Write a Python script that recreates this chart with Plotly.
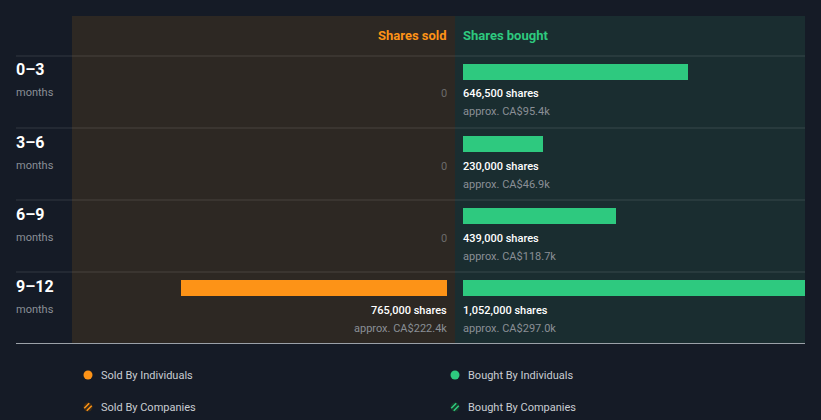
import math
import plotly.graph_objects as go

# ---------------- data ----------------
periods = ["0–3", "3–6", "6–9", "9–12"]
period_unit = "months"
sold_shares = [0, 0, 0, 765000]
sold_value_k = [0, 0, 0, 222.4]
bought_shares = [646500, 230000, 439000, 1052000]
bought_value_k = [95.4, 46.9, 118.7, 297.0]
legend_labels = ["Sold By Individuals", "Bought By Individuals",
                 "Sold By Companies", "Bought By Companies"]

# ---------------- style ----------------
W, H = 821, 420
BG = "#151b26"
SOLD_BG = "#2d2823"
BOUGHT_BG = "#1a2d30"
ORANGE = "#fd9317"
GREEN = "#2ec97f"
GREY = "#8a8f96"
FONT = "Roboto"

PX_PER_SHARE = 3.48e-4
ROW = 72.0
SHIFT = 2  # compensate annotation padding


def px(x):
    return x / W


def py(y):
    return (H - y) / H


# axis geometry (pixels)
sold_l, sold_r, sold_zero = 72, 455, 447
buy_l, buy_r, buy_zero = 455, 805, 463
top, bottom = 16, 343
first_bar_center = 72

sold_range = [(sold_zero - sold_l) / PX_PER_SHARE, -(sold_r - sold_zero) / PX_PER_SHARE]
buy_range = [-(buy_zero - buy_l) / PX_PER_SHARE, (buy_r - buy_zero) / PX_PER_SHARE]
y_range = [(bottom - first_bar_center) / ROW, (top - first_bar_center) / ROW]

idx = list(range(len(periods)))

fig = go.Figure()
fig.add_trace(go.Bar(
    y=idx, x=sold_shares, orientation="h", xaxis="x", yaxis="y",
    marker=dict(color=ORANGE, line=dict(width=0)), width=16 / ROW,
    hoverinfo="skip", showlegend=False))
fig.add_trace(go.Bar(
    y=idx, x=bought_shares, orientation="h", xaxis="x2", yaxis="y",
    marker=dict(color=GREEN, line=dict(width=0)), width=16 / ROW,
    hoverinfo="skip", showlegend=False))

shapes = []
# panel backgrounds
shapes.append(dict(type="rect", xref="paper", yref="paper", x0=px(sold_l), x1=px(sold_r),
                   y0=py(bottom), y1=py(top), fillcolor=SOLD_BG, line=dict(width=0), layer="below"))
shapes.append(dict(type="rect", xref="paper", yref="paper", x0=px(buy_l), x1=px(buy_r),
                   y0=py(bottom), y1=py(top), fillcolor=BOUGHT_BG, line=dict(width=0), layer="below"))
# row separators
for i in idx:
    yy = i - 16 / ROW
    shapes.append(dict(type="line", xref="paper", yref="y", x0=px(16), x1=px(buy_r),
                       y0=yy, y1=yy, line=dict(color="rgba(255,255,255,0.13)", width=1)))
# bottom line
shapes.append(dict(type="line", xref="paper", yref="paper", x0=px(16), x1=px(buy_r),
                   y0=py(343.5), y1=py(343.5), line=dict(color="#9ba1a8", width=1)))

annotations = []
# headers
annotations.append(dict(text="<b>Shares sold</b>", xref="x", yref="paper", x=0, y=py(35),
                        xanchor="right", yanchor="middle", showarrow=False, xshift=SHIFT,
                        font=dict(family=FONT, size=13, color=ORANGE)))
annotations.append(dict(text="<b>Shares bought</b>", xref="x2", yref="paper", x=0, y=py(35),
                        xanchor="left", yanchor="middle", showarrow=False, xshift=-SHIFT,
                        font=dict(family=FONT, size=13, color=GREEN)))

for i, p in enumerate(periods):
    annotations.append(dict(text="<b>%s</b>" % p, xref="paper", yref="y", x=px(14), y=i - 2 / ROW,
                            xanchor="left", yanchor="middle", showarrow=False,
                            font=dict(family=FONT, size=16, color="#ffffff")))
    annotations.append(dict(text=period_unit, xref="paper", yref="y", x=px(14), y=i + 21 / ROW,
                            xanchor="left", yanchor="middle", showarrow=False,
                            font=dict(family=FONT, size=11, color=GREY)))
    # sold
    if sold_shares[i] > 0:
        annotations.append(dict(text="%s shares" % f"{sold_shares[i]:,}", xref="x", yref="y",
                                x=0, y=i + 22 / ROW, xanchor="right", yanchor="middle",
                                showarrow=False, xshift=SHIFT,
                                font=dict(family=FONT, size=11, color="#ffffff", weight=500)))
        annotations.append(dict(text="approx. CA$%.1fk" % sold_value_k[i], xref="x", yref="y",
                                x=0, y=i + 40 / ROW, xanchor="right", yanchor="middle",
                                showarrow=False, xshift=SHIFT,
                                font=dict(family=FONT, size=11, color=GREY)))
    else:
        annotations.append(dict(text="0", xref="x", yref="y", x=0, y=i + 22 / ROW,
                                xanchor="right", yanchor="middle", showarrow=False, xshift=SHIFT,
                                font=dict(family=FONT, size=11, color="#6b6b6b")))
    # bought
    if bought_shares[i] > 0:
        annotations.append(dict(text="%s shares" % f"{bought_shares[i]:,}", xref="x2", yref="y",
                                x=0, y=i + 22 / ROW, xanchor="left", yanchor="middle",
                                showarrow=False, xshift=-SHIFT,
                                font=dict(family=FONT, size=11, color="#ffffff", weight=500)))
        annotations.append(dict(text="approx. CA$%.1fk" % bought_value_k[i], xref="x2", yref="y",
                                x=0, y=i + 40 / ROW, xanchor="left", yanchor="middle",
                                showarrow=False, xshift=-SHIFT,
                                font=dict(family=FONT, size=11, color=GREY)))
    else:
        annotations.append(dict(text="0", xref="x2", yref="y", x=0, y=i + 22 / ROW,
                                xanchor="left", yanchor="middle", showarrow=False, xshift=-SHIFT,
                                font=dict(family=FONT, size=11, color="#6b6b6b")))

# legend (custom)
leg_pos = [(88, 375), (455, 375), (88, 407), (455, 407)]
leg_col = [ORANGE, GREEN, ORANGE, GREEN]
leg_dark = [None, None, "#3a2a18", "#173528"]
r = 4.5
for (cx, cy), lab, col, dark in zip(leg_pos, legend_labels, leg_col, leg_dark):
    if dark is None:
        shapes.append(dict(type="circle", xref="paper", yref="paper",
                           x0=px(cx - r), x1=px(cx + r), y0=py(cy + r), y1=py(cy - r),
                           fillcolor=col, line=dict(width=0)))
    else:
        shapes.append(dict(type="circle", xref="paper", yref="paper",
                           x0=px(cx - r), x1=px(cx + r), y0=py(cy + r), y1=py(cy - r),
                           fillcolor=dark, line=dict(width=0)))
        # diagonal stripes (bottom-left to top-right), clipped to the circle
        for d in (-1.8, 1.8):
            half = math.sqrt(max(r * r - d * d, 0)) - 0.6
            # perpendicular offset direction (1,1)/sqrt2 in pixel coords, line direction (1,-1)/sqrt2
            ox, oy = cx + d / math.sqrt(2), cy + d / math.sqrt(2)
            dx, dy = half / math.sqrt(2), -half / math.sqrt(2)
            shapes.append(dict(type="line", xref="paper", yref="paper",
                               x0=px(ox - dx), y0=py(oy - dy), x1=px(ox + dx), y1=py(oy + dy),
                               line=dict(color=col, width=1.6)))
    annotations.append(dict(text=lab, xref="paper", yref="paper", x=px(cx + 11), y=py(cy),
                            xanchor="left", yanchor="middle", showarrow=False,
                            font=dict(family=FONT, size=11, color="#c9cdd2")))

axis_common = dict(showgrid=False, zeroline=False, showticklabels=False, showline=False,
                   ticks="", fixedrange=True)
fig.update_layout(
    width=W, height=H,
    margin=dict(l=0, r=0, t=0, b=0),
    paper_bgcolor=BG, plot_bgcolor="rgba(0,0,0,0)",
    xaxis=dict(domain=[px(sold_l), px(sold_r)], range=sold_range, anchor="y", **axis_common),
    xaxis2=dict(domain=[px(buy_l), px(buy_r)], range=buy_range, anchor="y", **axis_common),
    yaxis=dict(domain=[py(bottom), py(top)], range=y_range, anchor="x", **axis_common),
    shapes=shapes, annotations=annotations,
    showlegend=False, bargap=0,
    font=dict(family=FONT),
)

fig.write_html("out.html", config={"displayModeBar": False})
